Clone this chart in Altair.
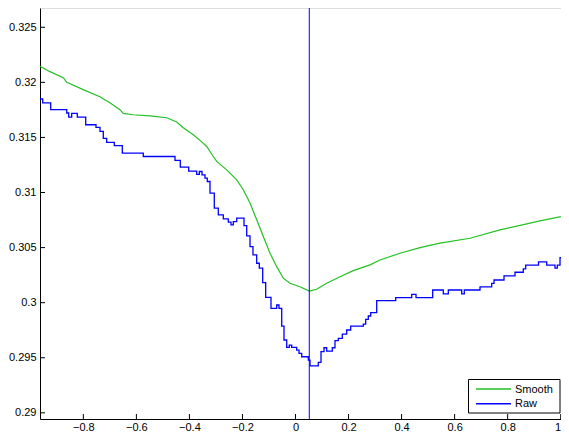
import altair as alt
import pandas as pd

# Smooth curve
smooth_x = [-0.9634, -0.926, -0.8756, -0.8627, -0.8002, -0.7376, -0.6999, -0.6621, -0.6493,
            -0.6127, -0.5486, -0.4857, -0.448, -0.4231, -0.3854, -0.3601, -0.3348, -0.31,
            -0.2971, -0.2594, -0.2217, -0.1968, -0.1716, -0.1463, -0.1214, -0.0962, -0.0709,
            -0.046, -0.0207, 0.017, 0.052, 0.0799, 0.1176, 0.1678, 0.2179, 0.2809, 0.3186,
            0.394, 0.4695, 0.5449, 0.658, 0.7711, 0.9219, 1.0313]
smooth_y = [0.32145, 0.32097, 0.32043, 0.32, 0.31934, 0.3187, 0.31815, 0.31752, 0.31718,
            0.31706, 0.31695, 0.31679, 0.3164, 0.31588, 0.31525, 0.31473, 0.31418, 0.31327,
            0.31282, 0.31206, 0.31115, 0.31025, 0.30904, 0.30752, 0.306, 0.30449, 0.30327,
            0.30222, 0.30176, 0.30145, 0.30106, 0.30122, 0.30176, 0.30236, 0.30291, 0.30343,
            0.30388, 0.30449, 0.305, 0.3054, 0.30585, 0.30661, 0.30743, 0.30797]

# Raw (stepped) curve
raw_x = [-0.9634, -0.9532, -0.9231, -0.8627, -0.8552, -0.8439, -0.8228, -0.7911, -0.7523,
         -0.7372, -0.7247, -0.7119, -0.6833, -0.6531, -0.5739, -0.4544, -0.4344, -0.4027,
         -0.3725, -0.3627, -0.3526, -0.3413, -0.3326, -0.3224, -0.3062, -0.2911, -0.2722,
         -0.2534, -0.2432, -0.2345, -0.2217, -0.1942, -0.184, -0.1716, -0.1603, -0.1463,
         -0.1365, -0.1237, -0.1124, -0.0924, -0.0709, -0.0622, -0.052, -0.0434, -0.0332,
         -0.0234, -0.0143, 0.0045, 0.0132, 0.0234, 0.0483, 0.0547, 0.086, 0.0962, 0.1075,
         0.1176, 0.1388, 0.1489, 0.1614, 0.1765, 0.1931, 0.2081, 0.2557, 0.2647, 0.2745,
         0.2836, 0.3062, 0.3778, 0.4382, 0.4544, 0.5173, 0.5573, 0.5762, 0.6267, 0.6365,
         0.6957, 0.7398, 0.7485, 0.7862, 0.8277, 0.859, 0.868, 0.9163, 0.9472, 0.9785,
         0.9872, 0.9974, 1.0313]
raw_y = [0.31849, 0.31813, 0.31752, 0.31722, 0.31685, 0.31718, 0.31685, 0.31615, 0.31591,
         0.31555, 0.31491, 0.31455, 0.31425, 0.31358, 0.31327, 0.31291, 0.31231, 0.31195,
         0.31164, 0.31191, 0.31161, 0.31131, 0.311, 0.30995, 0.30858, 0.30797, 0.30761,
         0.30731, 0.30706, 0.30736, 0.30767, 0.307, 0.30606, 0.30509, 0.30434, 0.30358,
         0.30313, 0.30182, 0.30049, 0.29949, 0.29979, 0.29949, 0.29788, 0.29661, 0.29595,
         0.29615, 0.29595, 0.2957, 0.2954, 0.29509, 0.29479, 0.29427, 0.29458, 0.29555,
         0.29591, 0.29561, 0.29591, 0.29655, 0.29676, 0.29715, 0.29752, 0.29788, 0.29806,
         0.29849, 0.29879, 0.29909, 0.30018, 0.30045, 0.30076, 0.30045, 0.30115, 0.30079,
         0.30115, 0.30079, 0.30115, 0.30143, 0.30176, 0.30206, 0.30243, 0.30276, 0.30306,
         0.3034, 0.3037, 0.3034, 0.30313, 0.3034, 0.30409, 0.30409]

marker_x = [0.052]
series_names = ["Smooth", "Raw"]
series_colors = ["#22c022", "#0000ff"]
x_ticks = [-0.8, -0.6, -0.4, -0.2, 0.0, 0.2, 0.4, 0.6, 0.8, 1.0]
y_ticks = [0.29, 0.295, 0.3, 0.305, 0.31, 0.315, 0.32, 0.325]
x_domain = [-0.9634, 1.0011]
y_domain = [0.28944, 0.32675]

W, H = 521, 411
FONT = "Liberation Sans"

smooth_df = pd.DataFrame({"x": smooth_x, "y": smooth_y})
raw_df = pd.DataFrame({"x": raw_x, "y": raw_y})

xscale = alt.Scale(domain=x_domain, nice=False, zero=False)
yscale = alt.Scale(domain=y_domain, nice=False, zero=False)

xaxis = alt.Axis(values=x_ticks, format=".1~f", title=None, grid=False, ticks=False,
                 labelPadding=2, domainColor="black", labelColor="black",
                 labelFont=FONT, labelFontSize=11, labelFlush=False,
                 labelAlign=alt.ExprRef(expr="datum.value >= 1 ? 'right' : 'center'"))
yaxis = alt.Axis(values=y_ticks, format=".3~f", title=None, grid=False, ticks=False,
                 labelPadding=4, domainColor="black", labelColor="black",
                 labelFont=FONT, labelFontSize=11)

smooth = alt.Chart(smooth_df).mark_line(strokeWidth=1.2, clip=True, color=series_colors[0]).encode(
    x=alt.X("x:Q", scale=xscale, axis=xaxis),
    y=alt.Y("y:Q", scale=yscale, axis=yaxis),
)
raw = alt.Chart(raw_df).mark_line(strokeWidth=1.3, interpolate="step-after", clip=True,
                                  color=series_colors[1]).encode(
    x=alt.X("x:Q", scale=xscale),
    y=alt.Y("y:Q", scale=yscale),
)
vline = alt.Chart(pd.DataFrame({"x": marker_x})).mark_rule(color="#0000ff", strokeWidth=1).encode(
    x=alt.X("x:Q", scale=xscale),
)
yt = alt.Chart(pd.DataFrame({"y": y_ticks})).mark_rule(color="black", strokeWidth=1).encode(
    y=alt.Y("y:Q", scale=yscale), x=alt.value(0), x2=alt.value(5)
)
xt = alt.Chart(pd.DataFrame({"x": x_ticks})).mark_rule(color="black", strokeWidth=1).encode(
    x=alt.X("x:Q", scale=xscale), y=alt.value(H), y2=alt.value(H - 5)
)

# Legend box (drawn manually, bottom-right inside the axes)
leg_df = pd.DataFrame({"series": series_names})
LX0, LX1, LY0, LY1 = 428.5, 520, 371.5, 405
box = alt.Chart(leg_df.head(1)).mark_rect(fill="white", stroke="black", strokeWidth=1).encode(
    x=alt.value(LX0), x2=alt.value(LX1), y=alt.value(LY0), y2=alt.value(LY1)
)
leg_layers = [box]
for i, (name, col) in enumerate(zip(series_names, series_colors)):
    yy = LY0 + 9.5 + i * 14.7
    d = leg_df.iloc[[i]]
    leg_layers.append(
        alt.Chart(d).mark_rule(color=col, strokeWidth=1.5).encode(
            x=alt.value(436), x2=alt.value(471), y=alt.value(yy)
        )
    )
    leg_layers.append(
        alt.Chart(d).mark_text(align="left", baseline="middle", font=FONT, fontSize=11,
                               color="black").encode(
            x=alt.value(475), y=alt.value(yy + 0.5), text="series:N"
        )
    )

chart = alt.layer(smooth, raw, vline, yt, xt, *leg_layers).properties(
    width=W, height=H,
    autosize=alt.AutoSizeParams(type="none"),
    padding={"left": 32, "top": 0, "right": 0, "bottom": 14},
).configure_view(stroke=None).configure(background="white")

chart.save("out.html", embed_options={"renderer": "svg", "actions": False})
